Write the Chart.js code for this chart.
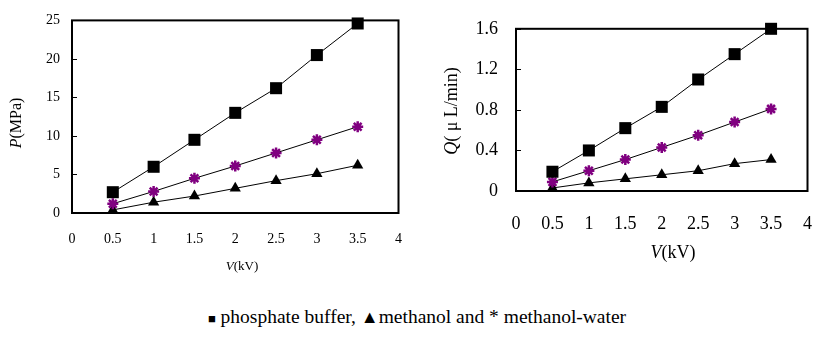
<!DOCTYPE html>
<html>
<head>
<meta charset="utf-8">
<script src="https://cdn.jsdelivr.net/npm/chart.js@4.4.1/dist/chart.umd.min.js"></script>
<style>
  html, body { margin: 0; padding: 0; background: #fff; }
  body { width: 834px; height: 338px; position: relative; overflow: hidden; }
  #left { position: absolute; left: 0; top: 0; }
  #right { position: absolute; left: 420px; top: 0; }
  #caption {
    position: absolute; left: 0; width: 834px; top: 305px; text-align: center;
    font-family: 'Liberation Serif', serif; font-size: 19.5px; line-height: 24px; color: #000;
  }
  #caption .sq { font-size: 13px; }
  #caption .tri { font-size: 18px; }
</style>
</head>
<body>
<canvas id="left" width="420" height="290"></canvas>
<canvas id="right" width="414" height="290"></canvas>
<div id="caption"><span class="sq">■</span> phosphate buffer, <span class="tri">▲</span>methanol and * methanol-water</div>
<script>
const VOLTAGES = [0.5, 1, 1.5, 2, 2.5, 3, 3.5];

// left panel: pressure P (MPa)
const P_PHOSPHATE = [2.7, 6.0, 9.5, 13.0, 16.2, 20.5, 24.6];
const P_METHANOL_WATER = [1.2, 2.8, 4.5, 6.1, 7.8, 9.5, 11.2];
const P_METHANOL = [0.4, 1.4, 2.2, 3.2, 4.2, 5.1, 6.2];

// right panel: flow rate Q (uL/min)
const Q_PHOSPHATE = [0.19, 0.40, 0.62, 0.83, 1.10, 1.35, 1.60];
const Q_METHANOL_WATER = [0.09, 0.20, 0.31, 0.43, 0.55, 0.68, 0.81];
const Q_METHANOL = [0.03, 0.08, 0.12, 0.16, 0.20, 0.27, 0.31];

const SERIF = "'Liberation Serif', serif";
const PURPLE = "#800080";

function pts(ys) {
  return VOLTAGES.map((x, i) => ({ x, y: ys[i] }));
}

function datasets(sq, star, tri) {
  const base = { borderColor: "#000", borderWidth: 1, showLine: true, tension: 0, clip: false };
  return [
    { ...base, label: "phosphate buffer", data: pts(sq), pointStyle: "rect", pointRadius: 8.5,
      pointBackgroundColor: "#000", pointBorderColor: "#000", pointBorderWidth: 0 },
    { ...base, label: "methanol-water", data: pts(star), pointStyle: "star", pointRadius: 5.5,
      pointBackgroundColor: PURPLE, pointBorderColor: PURPLE, pointBorderWidth: 2.5 },
    { ...base, label: "methanol", data: pts(tri), pointStyle: "triangle", pointRadius: 6.5,
      pointBackgroundColor: "#000", pointBorderColor: "#000", pointBorderWidth: 0 },
  ];
}

// draws a label made of parts, some italic, centered on (x, y)
function drawParts(ctx, parts, size, x, y, rotate) {
  ctx.save();
  ctx.translate(x, y);
  if (rotate) ctx.rotate(-Math.PI / 2);
  ctx.fillStyle = "#000";
  ctx.textBaseline = "middle";
  let total = 0;
  for (const p of parts) {
    ctx.font = `${p.italic ? "italic " : ""}${size}px ${SERIF}`;
    total += ctx.measureText(p.text).width;
  }
  let cx = -total / 2;
  for (const p of parts) {
    ctx.font = `${p.italic ? "italic " : ""}${size}px ${SERIF}`;
    ctx.textAlign = "left";
    ctx.fillText(p.text, cx, 0);
    cx += ctx.measureText(p.text).width;
  }
  ctx.restore();
}

const framePlugin = {
  id: "frame",
  afterDraw(chart, args, opts) {
    const { ctx, chartArea: a, scales } = chart;
    ctx.save();
    ctx.strokeStyle = "#000";
    ctx.lineWidth = 1;
    for (const t of scales.y.ticks) {
      const py = Math.round(scales.y.getPixelForValue(t.value)) + 0.5;
      ctx.beginPath();
      ctx.moveTo(a.left, py);
      ctx.lineTo(a.left + 5, py);
      ctx.stroke();
    }
    ctx.lineWidth = 2;
    ctx.strokeRect(a.left, a.top, a.right - a.left, a.bottom - a.top);
    ctx.restore();
    drawParts(ctx, opts.xTitle, opts.xTitleSize, opts.xTitlePos[0], opts.xTitlePos[1], false);
    drawParts(ctx, opts.yTitle, opts.yTitleSize, opts.yTitlePos[0], opts.yTitlePos[1], true);
  },
};

const plainNumber = v => String(Math.round(v * 100) / 100);

function makeChart(id, cfg) {
  return new Chart(document.getElementById(id), {
    type: "scatter",
    data: { datasets: cfg.datasets },
    plugins: [framePlugin],
    options: {
      responsive: false,
      animation: false,
      events: [],
      layout: { padding: cfg.padding },
      plugins: {
        legend: { display: false },
        tooltip: { enabled: false },
        frame: cfg.frame,
      },
      scales: {
        x: {
          type: "linear", min: 0, max: 4,
          grid: { display: false, drawTicks: false },
          border: { display: false },
          ticks: { stepSize: 0.5, color: "#000", padding: cfg.xPad, callback: plainNumber,
                   font: { family: SERIF, size: cfg.xTickSize } },
          afterFit: s => { s.height = cfg.xHeight; },
        },
        y: {
          type: "linear", min: 0, max: cfg.yMax,
          grid: { display: false, drawTicks: false },
          border: { display: false },
          ticks: { stepSize: cfg.yStep, color: "#000", padding: cfg.yPad, callback: plainNumber,
                   font: { family: SERIF, size: cfg.yTickSize } },
          afterFit: s => { s.width = cfg.yWidth; },
        },
      },
    },
  });
}

makeChart("left", {
  datasets: datasets(P_PHOSPHATE, P_METHANOL_WATER, P_METHANOL),
  padding: { top: 19, right: 10, bottom: 0, left: 0 },
  yMax: 25, yStep: 5, yWidth: 72, xHeight: 77,
  xPad: 18, yPad: 12, xTickSize: 14, yTickSize: 14,
  frame: {
    xTitle: [{ text: "V", italic: true }, { text: "(kV)" }], xTitleSize: 13, xTitlePos: [242, 267],
    yTitle: [{ text: "P", italic: true }, { text: "(MPa)" }], yTitleSize: 16, yTitlePos: [17, 123],
  },
});

makeChart("right", {
  datasets: datasets(Q_PHOSPHATE, Q_METHANOL_WATER, Q_METHANOL),
  padding: { top: 28, right: 7, bottom: 0, left: 0 },
  yMax: 1.6, yStep: 0.4, yWidth: 96, xHeight: 99,
  xPad: 22, yPad: 18, xTickSize: 18, yTickSize: 18,
  frame: {
    xTitle: [{ text: "V", italic: true }, { text: "(kV)" }], xTitleSize: 18, xTitlePos: [253, 253],
    yTitle: [{ text: "Q", italic: true }, { text: "( μ L/min)" }], yTitleSize: 18, yTitlePos: [32, 111],
  },
});
</script>
</body>
</html>
